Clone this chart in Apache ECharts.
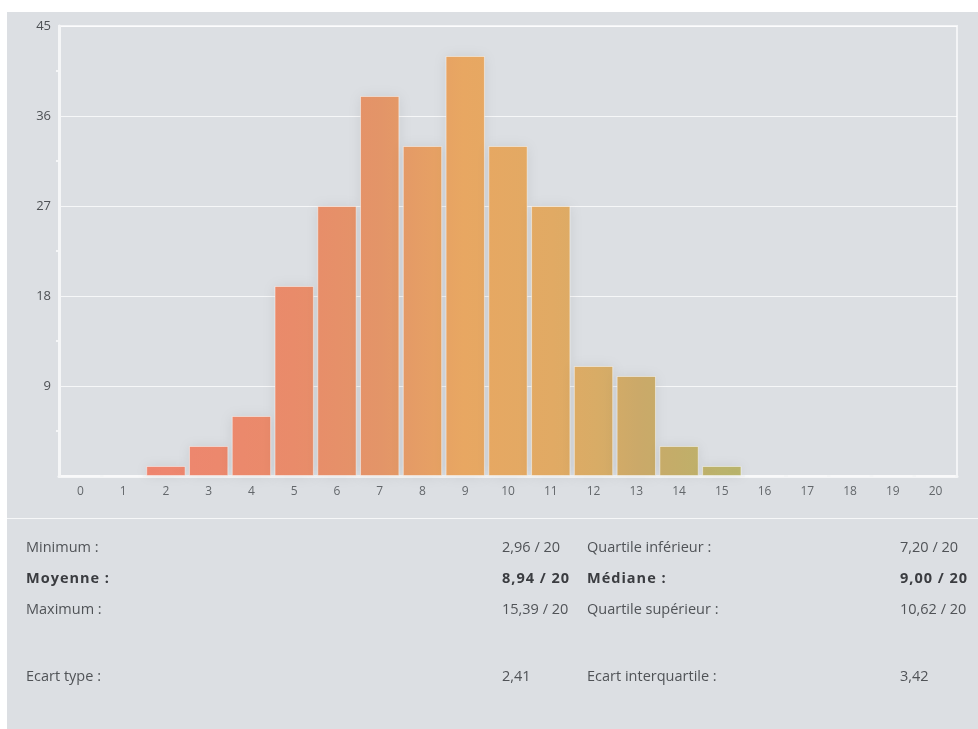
<!DOCTYPE html>
<html>
<head>
<meta charset="utf-8">
<script src="https://cdn.jsdelivr.net/npm/echarts@6/dist/echarts.min.js"></script>
<style>
html,body{margin:0;padding:0;background:#ffffff;width:978px;height:729px;overflow:hidden;}
#panel{position:absolute;left:7px;top:12px;width:971px;height:717px;background:#dcdfe3;}
#chart{position:absolute;left:0;top:0;width:978px;height:729px;}
#divider{position:absolute;left:7px;top:518px;width:971px;height:0;border-top:1.5px solid rgba(255,255,255,0.75);}
.st{position:absolute;font-family:"Open Sans",sans-serif;font-size:14.5px;color:#505357;line-height:20px;white-space:nowrap;}
.st.b{font-weight:bold;color:#3a3c40;letter-spacing:1px;}
</style>
</head>
<body>
<div id="panel"></div>
<div id="chart"></div>
<div id="divider"></div>
<div id="stats"></div>
<script>
const categories = ['0','1','2','3','4','5','6','7','8','9','10','11','12','13','14','15','16','17','18','19','20'];
const counts = [0,0,1,3,6,19,27,38,33,42,33,27,11,10,3,1,0,0,0,0,0];
const yMax = 45;
const yStep = 9;

const statLabelsLeft = ['Minimum :','Moyenne :','Maximum :','Ecart type :'];
const statValuesLeft = ['2,96 / 20','8,94 / 20','15,39 / 20','2,41'];
const statLabelsRight = ['Quartile inférieur :','Médiane :','Quartile supérieur :','Ecart interquartile :'];
const statValuesRight = ['7,20 / 20','9,00 / 20','10,62 / 20','3,42'];
const statBold = [false,true,false,false];

// stats block as real HTML text
const rowY = [547, 578, 609, 676];
const colX = [26, 502, 587, 900];
const cols = [statLabelsLeft, statValuesLeft, statLabelsRight, statValuesRight];
const statsEl = document.getElementById('stats');
cols.forEach((arr, ci) => {
  arr.forEach((t, i) => {
    const d = document.createElement('div');
    d.className = 'st' + (statBold[i] ? ' b' : '');
    d.textContent = t;
    d.style.left = colX[ci] + 'px';
    d.style.top = (rowY[i] - 10) + 'px';
    statsEl.appendChild(d);
  });
});

const chart = echarts.init(document.getElementById('chart'), null, {renderer:'canvas'});

const barGradient = new echarts.graphic.LinearGradient(59, 0, 957, 0, [
  {offset:0.00, color:'#f2826f'},
  {offset:0.12, color:'#ee866f'},
  {offset:0.26, color:'#e98b6a'},
  {offset:0.36, color:'#e39568'},
  {offset:0.45, color:'#e8a762'},
  {offset:0.55, color:'#e1aa64'},
  {offset:0.60, color:'#d8ac66'},
  {offset:0.645, color:'#cba969'},
  {offset:0.69, color:'#c3ad69'},
  {offset:0.74, color:'#bab36b'},
  {offset:1.00, color:'#a8b86e'}
], true);

chart.setOption({
  animation:false,
  backgroundColor:'transparent',
  grid:{left:59, right:21, top:26, bottom:253, show:true, borderColor:'#f3f4f6', borderWidth:2, backgroundColor:'transparent'},
  xAxis:{
    type:'category', data:categories,
    axisLine:{show:true, lineStyle:{color:'#f5f6f7', width:3}},
    axisTick:{show:false},
    axisLabel:{color:'#63676b', fontSize:12, fontFamily:'"Open Sans", sans-serif', margin:10},
    splitLine:{show:false}
  },
  yAxis:{
    type:'value', min:0, max:yMax, interval:yStep,
    axisLine:{show:true, lineStyle:{color:'#f5f6f7', width:3}},
    axisTick:{show:false},
    minorTick:{show:true, splitNumber:2, length:3, lineStyle:{color:'#f5f6f7', width:2}},
    axisLabel:{color:'#4d5054', fontSize:13, fontFamily:'"Open Sans", sans-serif', showMinLabel:false, margin:8},
    splitLine:{show:true, lineStyle:{color:'rgba(255,255,255,0.75)', width:1}}
  },
  series:[{
    type:'bar', data:counts, barCategoryGap:'8%',
    itemStyle:{color:barGradient, borderColor:'rgba(255,255,255,0.45)', borderWidth:1,
      shadowBlur:12, shadowColor:'rgba(0,0,0,0.08)'}
  }]
});
</script>
</body>
</html>
